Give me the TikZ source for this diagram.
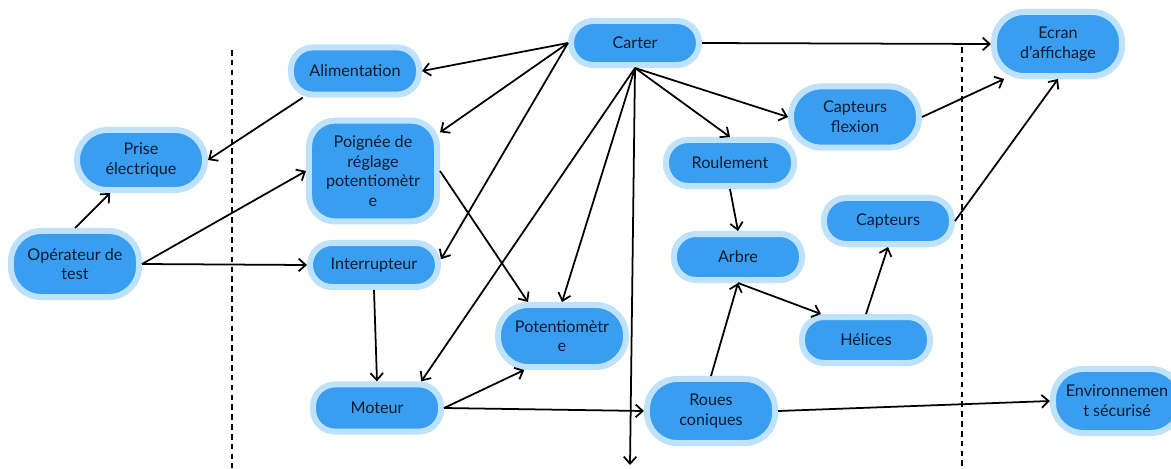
\documentclass[tikz,border=0pt]{standalone}
\usepackage{fontspec}
\setmainfont{Lato}
\usetikzlibrary{positioning,arrows.meta}

\definecolor{boxfill}{HTML}{3A9EF0}
\definecolor{boxrim}{HTML}{BEE2FB}
\definecolor{boxtext}{HTML}{101A30}

\tikzset{
	bloc/.style={draw=boxrim, line width=0.15cm, fill=boxfill, rounded corners=0.55cm,
		minimum width=3.2cm, minimum height=1.1cm, align=center, text=boxtext,
		font=\fontsize{11.5}{14}\selectfont, inner sep=1pt},
	grand/.style={minimum height=1.55cm, rounded corners=0.75cm},
	fleche/.style={-{Straight Barb[length=5pt,width=9pt]}, line width=1.25pt, black},
	limite/.style={line width=1.1pt, dash pattern=on 4pt off 3pt}
}

\begin{document}
\begin{tikzpicture}[x=0.025cm, y=-0.025cm]
	\useasboundingbox (0,0) rectangle (1171,468);

	% Boundaries:
	\draw[limite] (232,50) -- (232,468);
	\draw[limite] (962,47) -- (962,468);

	% Blocks:
	\node[bloc] (carter) at (635,43) {Carter};
	\node[bloc, minimum height=1.18cm] (alim) at (355,71) {Alimentation};
	\node[bloc, grand, minimum height=1.5cm] (prise) at (141,160) {Prise\\électrique};
	\node[bloc, grand, minimum height=1.65cm] (operateur) at (75,264) {Opérateur de\\test};
	\node[bloc, minimum height=2.52cm, rounded corners=0.65cm] (poignee) at (373,171) {Poignée de\\réglage\\potentiomètr\\e};
	\node[bloc] (interrupteur) at (374,265) {Interrupteur};
	\node[bloc, minimum height=1.18cm] (moteur) at (377,408) {Moteur};
	\node[bloc, grand] (potentio) at (562,336) {Potentiomètr\\e};
	\node[bloc, grand, minimum height=1.6cm] (roues) at (711,411) {Roues\\coniques};
	\node[bloc, minimum height=1.15cm] (roulement) at (730,163) {Roulement};
	\node[bloc, minimum height=1.15cm] (arbre) at (738,257) {Arbre};
	\node[bloc, grand, minimum height=1.53cm] (capflex) at (855,117) {Capteurs\\flexion};
	\node[bloc, minimum height=1.15cm] (capteurs) at (888,221) {Capteurs};
	\node[bloc, minimum height=1.15cm] (helices) at (866,340) {Hélices};
	\node[bloc, grand, minimum height=1.6cm] (ecran) at (1058,44) {Ecran\\d’affichage};
	\node[bloc, grand, minimum height=1.6cm] (environ) at (1117,401) {Environnemen\\t sécurisé};

	\coordinate (bas) at (630,465);

	% Arrows from Carter:
	\draw[fleche] (carter.west) -- (alim.east);
	\draw[fleche] (carter.west) -- (poignee.30);
	\draw[fleche] (carter.west) -- (interrupteur.5);
	\draw[fleche] (carter.south) -- (moteur.31);
	\draw[fleche] (carter.south) -- (potentio.north);
	\draw[fleche] (carter.south) -- (bas);
	\draw[fleche] (carter.south) -- (roulement.north);
	\draw[fleche] (carter.south) -- (capflex.west);
	\draw[fleche] (carter.east) -- (ecran.west);

	% Other arrows:
	\draw[fleche] (alim.207) -- (prise.east);
	\draw[fleche] (operateur.north) -- (prise.227);
	\draw[fleche] (operateur.east) -- (poignee.west);
	\draw[fleche] (operateur.east) -- (interrupteur.west);
	\draw[fleche] (poignee.east) -- (potentio.135);
	\draw[fleche] (interrupteur.south) -- (moteur.north);
	\draw[fleche] (moteur.east) -- (potentio.222);
	\draw[fleche] (moteur.east) -- (roues.west);
	\draw[fleche] (roues.north) -- (arbre.south);
	\draw[fleche] (roues.east) -- (environ.west);
	\draw[fleche] (roulement.south) -- (arbre.north);
	\draw[fleche] (arbre.south) -- (helices.150);
	\draw[fleche] (helices.north) -- (capteurs.south);
	\draw[fleche] (capflex.east) -- (ecran.213);
	\draw[fleche] (capteurs.east) -- (ecran.south);

\end{tikzpicture}
\end{document}
